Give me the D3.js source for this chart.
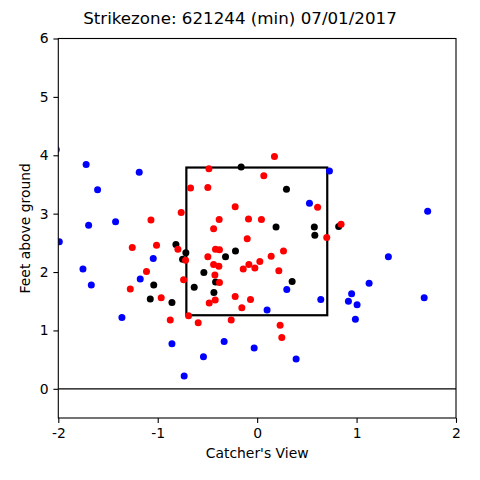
<!DOCTYPE html>
<html><head><meta charset="utf-8">
<script src="https://cdn.jsdelivr.net/npm/d3@7"></script>
<style>body{margin:0;background:#fff}svg{display:block}text{font-family:"DejaVu Sans",sans-serif}</style>
</head><body>
<script>
const title = "Strikezone: 621244 (min) 07/01/2017";
const xTicks = [-2, -1, 0, 1, 2];
const yTicks = [0, 1, 2, 3, 4, 5, 6];
const zone = {left: -0.712, right: 0.705, bottom: 1.26, top: 3.79};

const bluePts = [
  [-2.02,4.10],[-1.99,2.52],[-1.72,3.84],[-1.605,3.41],[-1.695,2.80],[-1.424,2.86],
  [-1.186,3.71],[-1.045,2.23],[-1.752,2.05],[-1.668,1.78],[-1.36,1.22],[-1.176,1.88],
  [-0.857,0.77],[-0.734,0.22],[-0.54,0.55],[-0.332,0.81],[-0.03,0.70],[0.392,0.51],
  [0.10,1.35],[0.298,1.70],[0.64,1.53],[0.727,3.73],[0.526,3.18],[1.715,3.04],
  [1.32,2.26],[1.126,1.81],[0.95,1.63],[0.918,1.50],[1.005,1.44],[0.988,1.19],[1.68,1.56]
];
const blackPts = [
  [-0.817,2.47],[-0.717,2.33],[-0.75,2.22],[-0.536,1.99],[-0.318,2.26],[-0.218,2.36],
  [-0.161,3.80],[0.295,3.42],[0.19,2.77],[0.575,2.77],[0.58,2.63],[0.82,2.78],
  [-0.633,1.74],[-0.418,1.83],[-0.435,1.65],[0.352,1.84],[-1.04,1.78],[-0.857,1.48],[-1.075,1.54]
];
const redPts = [
  [0.174,3.98],[-0.485,3.77],[0.067,3.65],[-0.67,3.44],[-0.496,3.45],[-0.764,3.02],
  [-0.221,3.12],[-0.382,2.90],[-0.087,2.91],[0.043,2.90],[-0.438,2.74],[-0.10,2.57],
  [-0.797,2.39],[-0.419,2.39],[-0.379,2.38],[0.265,2.36],[-0.72,2.20],[-0.496,2.26],
  [0.141,2.27],[-0.438,2.13],[-0.385,2.10],[-0.083,2.13],[-0.14,2.05],[-0.023,2.07],
  [0.027,2.18],[0.218,2.02],[-0.425,1.95],[-0.379,1.82],[-0.74,1.87],[-0.221,1.58],
  [-0.067,1.53],[-0.482,1.47],[-0.422,1.52],[-0.154,1.39],[-0.69,1.25],[-0.593,1.13],
  [-0.261,1.18],[0.231,1.09],[0.248,0.88],[-0.874,1.18],[-1.068,2.89],[-1.256,2.42],
  [-1.012,2.46],[-1.113,2.01],[-1.276,1.71],[-0.965,1.56],[0.608,3.11],[0.844,2.82],[0.70,2.59]
];

const W = 480, H = 480;
const L = 58.3, R = 456, T = 38.5, B = 418;
const svg = d3.select("body").append("svg").attr("width", W).attr("height", H);
const x = d3.scaleLinear().domain([-2, 2]).range([L, R]);
const y = d3.scaleLinear().domain([-0.5, 6]).range([B, T]);

svg.append("defs").append("clipPath").attr("id", "clip")
  .append("rect").attr("x", L).attr("y", T).attr("width", R - L).attr("height", B - T);
const plot = svg.append("g").attr("clip-path", "url(#clip)");

// zero line
plot.append("line").attr("x1", x(-2)).attr("x2", x(2)).attr("y1", y(0)).attr("y2", y(0))
  .attr("stroke", "#000").attr("stroke-width", 1.2);

// strike zone
plot.append("rect")
  .attr("x", x(zone.left)).attr("y", y(zone.top))
  .attr("width", x(zone.right) - x(zone.left)).attr("height", y(zone.bottom) - y(zone.top))
  .attr("fill", "none").attr("stroke", "#000").attr("stroke-width", 2.2);

function dots(data, color) {
  plot.append("g").selectAll("circle").data(data).enter().append("circle")
    .attr("cx", d => x(d[0])).attr("cy", d => y(d[1])).attr("r", 3.5).attr("fill", color);
}
dots(bluePts, "#0000ff");
dots(blackPts, "#000000");
dots(redPts, "#ff0000");

// axes
const fmt = d => String(d).replace("\u2212", "-");
const xa = svg.append("g").attr("transform", `translate(0,${B})`)
  .call(d3.axisBottom(x).tickValues(xTicks).tickFormat(fmt).tickSize(4.9).tickPadding(4.9));
const ya = svg.append("g").attr("transform", `translate(${L},0)`)
  .call(d3.axisLeft(y).tickValues(yTicks).tickFormat(fmt).tickSize(4.9).tickPadding(4.9));
[xa, ya].forEach(a => {
  a.select(".domain").remove();
  a.selectAll("text").attr("font-size", 13.9).attr("font-family", "DejaVu Sans").attr("fill", "#000");
  a.selectAll("line").attr("stroke", "#000").attr("stroke-width", 1.1);
});

svg.append("rect").attr("x", L).attr("y", T).attr("width", R - L).attr("height", B - T)
  .attr("fill", "none").attr("stroke", "#000").attr("stroke-width", 1.1);

svg.append("text").attr("x", 240).attr("y", 24).attr("text-anchor", "middle")
  .attr("font-size", 16.7).text(title);
svg.append("text").attr("x", (L + R) / 2).attr("y", 458).attr("text-anchor", "middle")
  .attr("font-size", 13.9).text("Catcher's View");
svg.append("text").attr("transform", `translate(30,${(T + B) / 2}) rotate(-90)`)
  .attr("text-anchor", "middle").attr("font-size", 13.9).text("Feet above ground");
</script>
</body></html>
